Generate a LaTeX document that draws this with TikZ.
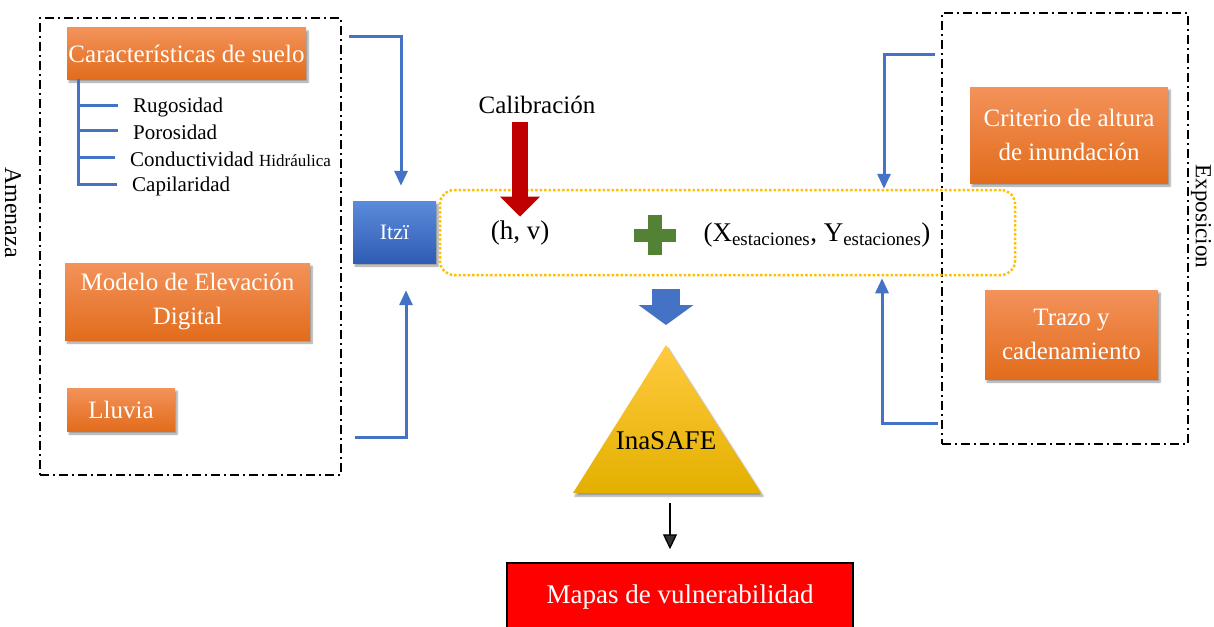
\documentclass[tikz,border=0pt]{standalone}
\usepackage{fontspec}
\setmainfont{Liberation Serif}
\usetikzlibrary{arrows.meta,shadows.blur,calc}
\definecolor{VulOrTop}{HTML}{F3925A}
\definecolor{VulOrBot}{HTML}{E26C1C}
\definecolor{VulItziTop}{HTML}{5B8BDB}
\definecolor{VulItziBot}{HTML}{2F5DB5}
\definecolor{VulBlue}{HTML}{4472C4}
\definecolor{VulGold}{HTML}{FFC000}
\definecolor{VulCal}{HTML}{C00000}
\definecolor{VulGreen}{HTML}{548235}
\definecolor{VulTriTop}{HTML}{FFCA3F}
\definecolor{VulTriBot}{HTML}{E3B000}
\definecolor{VulRed}{HTML}{FF0000}

\begin{document}
\begin{tikzpicture}[x=1pt,y=-1pt,line join=miter,
  frame/.style={draw=black,line width=2.2pt,dash pattern=on 9pt off 4pt on 2pt off 4pt},
  orangebox/.style={top color=VulOrTop,bottom color=VulOrBot,text=white,align=center,inner sep=0pt,
    font=\fontsize{25}{34}\selectfont,blur shadow={shadow xshift=2pt,shadow yshift=-3pt,shadow blur steps=6}},
  leaf/.style={anchor=west,inner sep=0pt,font=\fontsize{21}{24}\selectfont},
  branch/.style={draw=VulBlue,line width=3pt},
  bluecon/.style={draw=VulBlue,line width=3pt,-{Triangle[length=15pt,width=13pt]}},
  bigtext/.style={inner sep=0pt,font=\fontsize{27}{30}\selectfont}]
  \useasboundingbox (0,0) rectangle (1214,626);

  % group frames
  \node[frame,minimum width=301pt,minimum height=457pt] (amenaza) at (190.5,246.5) {};
  \node[frame,minimum width=246pt,minimum height=431pt] (exposic) at (1065,228.5) {};
  \node[rotate=-90,font=\fontsize{24}{26}\selectfont] (lblam) at ([xshift=-26pt,yshift=34pt]amenaza.west) {Amenaza};
  \node[rotate=-90,font=\fontsize{23}{26}\selectfont] (lblex) at ([xshift=12pt,yshift=12pt]exposic.east) {Exposicion};

  % input boxes
  \node[orangebox,minimum width=239pt,minimum height=51pt] (suelo) at (186.5,53.5) {Características de suelo};
  \node[orangebox,minimum width=245pt,minimum height=77pt] (mde) at (187.5,301.5) {Modelo de Elevación\\Digital};
  \node[orangebox,minimum width=108pt,minimum height=43pt] (lluvia) at (121,409.5) {Lluvia};
  \node[orangebox,minimum width=198pt,minimum height=96pt] (criterio) at (1069,135) {Criterio de altura\\de inundación};
  \node[orangebox,minimum width=173pt,minimum height=89pt] (trazo) at (1071.5,334.5) {Trazo y\\cadenamiento};

  % soil properties
  \node[leaf] (rug) at (133,107) {Rugosidad};
  \node[leaf] (por) at (133,132) {Porosidad};
  \node[leaf] (con) at (130,159) {Conductividad {\fontsize{17}{20}\selectfont Hidráulica}};
  \node[leaf] (cap) at (132,186) {Capilaridad};
  \foreach \leafname in {rug,por,con,cap}
    \draw[branch] ([xshift=12pt]suelo.south west) |- ([xshift=-15pt,yshift=2pt]\leafname.west);

  % model
  \node[top color=VulItziTop,bottom color=VulItziBot,text=white,minimum width=83pt,minimum height=62pt,
    font=\fontsize{22}{24}\selectfont,blur shadow={shadow xshift=2pt,shadow yshift=-3pt,shadow blur steps=6}] (itzi) at (394.5,232) {Itzï};
  \node[draw=VulGold,line width=2.5pt,dash pattern=on 2.5pt off 2pt,rounded corners=14pt,
    minimum width=575pt,minimum height=85pt] (res) at (727.5,232.5) {};
  \node[inner sep=0pt,font=\fontsize{25}{28}\selectfont] (calib) at (537,105) {Calibración};
  \node[bigtext] (hv) at (520,233) {(h, v)};
  \node[bigtext] (estac) at (817,235) {(X\textsubscript{estaciones}, Y\textsubscript{estaciones})};
  \coordinate (plus) at (655,235);
  \fill[VulGreen] ([xshift=-21pt,yshift=-6.5pt]plus) rectangle ([xshift=21pt,yshift=6.5pt]plus);
  \fill[VulGreen] ([xshift=-7pt,yshift=-20pt]plus) rectangle ([xshift=7pt,yshift=20pt]plus);
  \draw[VulCal,line width=16pt,-{Triangle[length=20pt,width=39pt]}]
    ($(hv.north |- calib.south)+(0,8)$) -- ([yshift=4pt]hv.north);

  % connectors into Itzi and the results box
  \coordinate (a1) at (349,37);
  \coordinate (a2) at (355,437);
  \coordinate (e1) at (935,55);
  \coordinate (e2) at (938,423);
  \draw[bluecon] (a1) -| ([xshift=6.5pt,yshift=15pt]itzi.north);
  \draw[bluecon] (a2) -| ([xshift=11.5pt,yshift=-27pt]itzi.south);
  \draw[bluecon] (e1) -| ([xshift=156.5pt]res.north);
  \draw[bluecon] (e2) -| ([xshift=154.5pt,yshift=-2pt]res.south);

  % InaSAFE
  \coordinate (apex) at (666,345);
  \coordinate (trl) at (573,493);
  \coordinate (trr) at (761,493);
  \coordinate (tribase) at (670,493);
  \draw[VulBlue,line width=28pt,-{Triangle[length=20pt,width=54pt]}]
    ($(apex |- res.south)+(0,13)$) -- ([yshift=20pt]apex);
  \path[top color=VulTriTop,bottom color=VulTriBot,blur shadow={shadow xshift=2pt,shadow yshift=-3pt,shadow blur steps=6}]
    (apex) -- (trr) -- (trl) -- cycle;
  \node[bigtext] (ina) at (666,441) {InaSAFE};

  % output
  \node[fill=VulRed,draw=black,line width=1.5pt,text=white,minimum width=346pt,minimum height=68pt,
    font=\fontsize{27}{30}\selectfont] (mapas) at (680,597) {Mapas de vulnerabilidad};
  \draw[line width=1.3pt,-{Triangle[length=15pt,width=14pt]}]
    ($(tribase)+(0,10)$) -- ($(tribase |- mapas.north)+(0,-13)$);
\end{tikzpicture}
\end{document}
